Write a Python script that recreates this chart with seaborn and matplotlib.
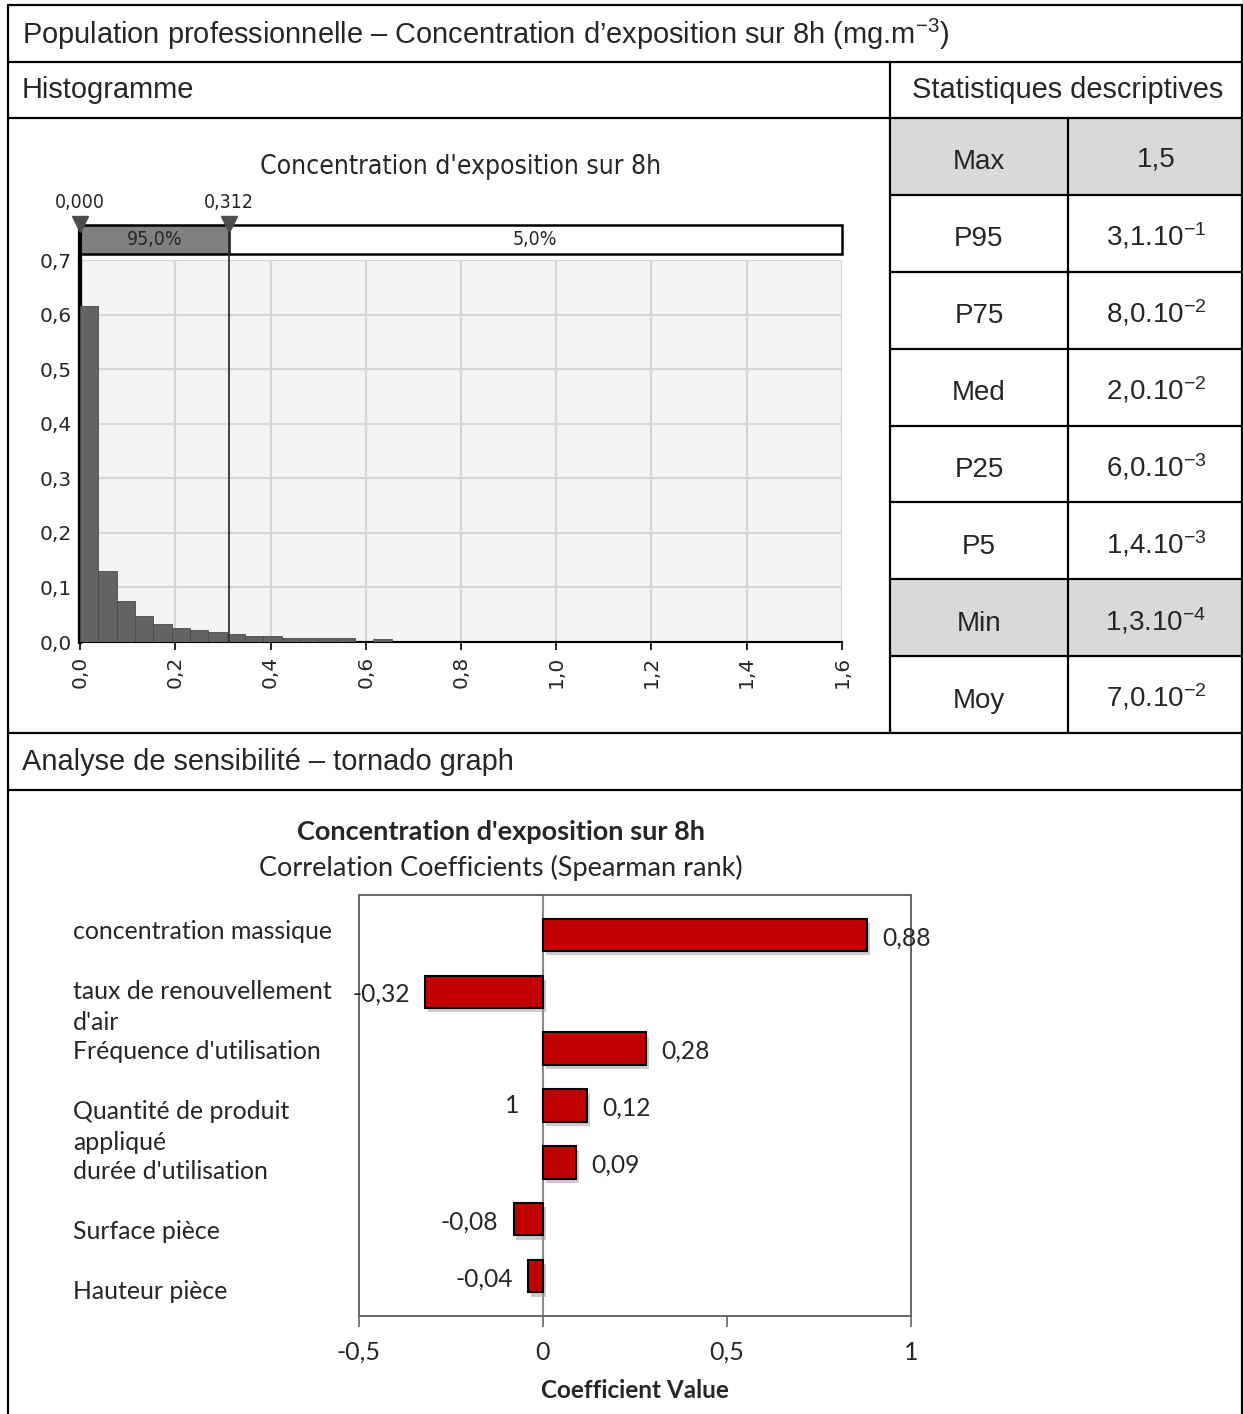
import numpy as np
import pandas as pd
import seaborn as sns
import matplotlib.pyplot as plt
import matplotlib.patheffects as pe
from matplotlib.patches import Rectangle
from matplotlib.transforms import blended_transform_factory

W, H = 1243, 1414

# --- histogram data (relative frequency per bin) ---
bin_width = 0.0385
hist_freq = [0.616, 0.130, 0.076, 0.047, 0.033, 0.026, 0.022, 0.018, 0.015,
             0.011, 0.011, 0.008, 0.007, 0.007, 0.007, 0.0, 0.006]
p_low, p_high = 0.000, 0.312
pct_in, pct_out = "95,0%", "5,0%"
hist_xticks = [0.0, 0.2, 0.4, 0.6, 0.8, 1.0, 1.2, 1.4, 1.6]
hist_yticks = [0.0, 0.1, 0.2, 0.3, 0.4, 0.5, 0.6, 0.7]

# --- descriptive statistics table ---
stat_labels = ["Max", "P95", "P75", "Med", "P25", "P5", "Min", "Moy"]
stat_values = ["1,5", "3,1.10$^{-1}$", "8,0.10$^{-2}$", "2,0.10$^{-2}$",
               "6,0.10$^{-3}$", "1,4.10$^{-3}$", "1,3.10$^{-4}$", "7,0.10$^{-2}$"]
stat_shaded = ["Max", "Min"]

# --- tornado data ---
factors = ["concentration massique", "taux de renouvellement\nd'air",
           "Fréquence d'utilisation", "Quantité de produit\nappliqué",
           "durée d'utilisation", "Surface pièce", "Hauteur pièce"]
coefs = [0.88, -0.32, 0.28, 0.12, 0.09, -0.08, -0.04]
coef_labels = ["0,88", "-0,32", "0,28", "0,12", "0,09", "-0,08", "-0,04"]
stray_label = ("1", -0.085, 3)
tornado_xticks = [-0.5, 0, 0.5, 1]
tornado_xticklabels = ["-0,5", "0", "0,5", "1"]

sns.set_theme(style="white")
plt.rcParams['font.family'] = ['Liberation Sans', 'DejaVu Sans']
plt.rcParams['mathtext.fontset'] = 'custom'
plt.rcParams['mathtext.rm'] = 'Liberation Sans'
plt.rcParams['mathtext.it'] = 'Liberation Sans:italic'
plt.rcParams['mathtext.bf'] = 'Liberation Sans:bold'

HF = ['DejaVu Sans']
CAL = ['Lato', 'DejaVu Sans']

fig = plt.figure(figsize=(W / 100, H / 100), dpi=100)

# background axes in pixel coordinates for the frame / table
bg = fig.add_axes([0, 0, 1, 1])
bg.set_xlim(0, W)
bg.set_ylim(H, 0)
bg.axis('off')

lw = 1.6
bg.plot([8, 8], [5, H], color='black', lw=lw)
bg.plot([W - 1, W - 1], [5, H], color='black', lw=lw)
for y in [5, 62, 118, 733, 790]:
    bg.plot([8, W], [y, y], color='black', lw=lw)
bg.plot([890, 890], [62, 733], color='black', lw=lw)
bg.plot([1068, 1068], [118, 733], color='black', lw=lw)

bg.text(22, 34, "Population professionnelle – Concentration d’exposition sur 8h (mg.m$^{-3}$)",
        fontsize=20.9, va='center', ha='left')
bg.text(22, 90, "Histogramme", fontsize=20.9, va='center', ha='left')
bg.text(1068, 90, "Statistiques descriptives", fontsize=20.9, va='center', ha='center')
bg.text(22, 762, "Analyse de sensibilité – tornado graph", fontsize=20.9, va='center', ha='left')

row_top = 118
row_h = (733 - 118) / len(stat_labels)
for i, (lab, val) in enumerate(zip(stat_labels, stat_values)):
    y0 = row_top + i * row_h
    if lab in stat_shaded:
        bg.add_patch(Rectangle((890, y0), W - 890, row_h, facecolor='#d9d9d9',
                               edgecolor='none', zorder=0))
    if i > 0:
        bg.plot([890, W], [y0, y0], color='black', lw=lw)
    bg.text(979, y0 + row_h / 2 + 6, lab, fontsize=20, ha='center', va='center')
    bg.text(1156, y0 + row_h / 2 + 3, val, fontsize=20, ha='center', va='center')

# --- histogram ---
ax_h = fig.add_axes([80 / W, 1 - 642 / H, 762 / W, 382 / H])
ax_h.set_facecolor('#f4f4f4')
edges = [i * bin_width for i in range(len(hist_freq) + 1)]
hdf = pd.DataFrame({'center': [e + bin_width / 2 for e in edges[:-1]], 'freq': hist_freq})
sns.histplot(data=hdf, x='center', weights='freq', bins=edges, color='#636363',
             edgecolor='#4a4a4a', linewidth=0.6, alpha=1, ax=ax_h, zorder=3)
ax_h.set_xlim(0, 1.6)
ax_h.set_ylim(0, 0.7)
ax_h.set_xticks(hist_xticks)
ax_h.set_yticks(hist_yticks)
ax_h.set_xticklabels([f"{t:.1f}".replace('.', ',') for t in hist_xticks],
                     rotation=90, family=HF, fontsize=14.5)
ax_h.set_yticklabels([f"{t:.1f}".replace('.', ',') for t in hist_yticks],
                     family=HF, fontsize=14.5)
ax_h.set_xlabel('')
ax_h.set_ylabel('')
ax_h.grid(True, color='#d6d6d6', lw=1.6, zorder=0)
ax_h.set_axisbelow(True)
for s in ['top', 'right']:
    ax_h.spines[s].set_visible(False)
ax_h.spines['left'].set_color('black')
ax_h.spines['left'].set_linewidth(3)
ax_h.spines['bottom'].set_color('black')
ax_h.spines['bottom'].set_linewidth(1.5)
ax_h.tick_params(axis='x', bottom=True, length=6, width=1.2, color='black', pad=4)
ax_h.tick_params(axis='y', left=False, length=0, pad=6)

tr = blended_transform_factory(ax_h.transData, ax_h.transAxes)
y_bar0, y_bar1 = 1.0157, 1.0916
ax_h.add_patch(Rectangle((p_low, y_bar0), p_high - p_low, y_bar1 - y_bar0, transform=tr,
                         facecolor='#808080', edgecolor='black', lw=1.8, clip_on=False))
ax_h.add_patch(Rectangle((p_high, y_bar0), 1.6 - p_high, y_bar1 - y_bar0, transform=tr,
                         facecolor='white', edgecolor='black', lw=1.8, clip_on=False))
ax_h.text((p_low + p_high) / 2, (y_bar0 + y_bar1) / 2, pct_in, transform=tr,
          ha='center', va='center', family=HF, fontstretch='condensed', fontsize=14)
ax_h.text((p_high + 1.6) / 2, (y_bar0 + y_bar1) / 2, pct_out, transform=tr,
          ha='center', va='center', family=HF, fontstretch='condensed', fontsize=14)
ax_h.plot([p_low, p_low], [0, y_bar1], transform=tr, color='black', lw=3, clip_on=False)
ax_h.plot([p_high, p_high], [0, y_bar1], transform=tr, color='#333333', lw=1.3,
          clip_on=False, zorder=4)
ax_h.plot([p_low, p_high], [1.093, 1.093], transform=tr, ls='none', marker='v',
          markersize=11, color='#4d4d4d', clip_on=False, zorder=5)
for p in [p_low, p_high]:
    ax_h.text(p, 1.15, f"{p:.3f}".replace('.', ','), transform=tr, ha='center',
              va='center', family=HF, fontstretch='condensed', fontsize=14)
bg.text(461, 167, "Concentration d'exposition sur 8h", ha='center', va='center',
        family='DejaVu Sans', fontstretch='condensed', fontsize=19)

# --- tornado ---
ax_t = fig.add_axes([359 / W, 1 - 1316 / H, 552 / W, 421 / H])
df = pd.DataFrame({'factor': factors, 'coef': coefs})
sns.barplot(data=df, x='coef', y='factor', orient='h', color='#c00000', saturation=1,
            edgecolor='black', linewidth=1.5, width=0.57, ax=ax_t, zorder=3)
for patch in ax_t.patches:
    patch.set_path_effects([pe.SimplePatchShadow(offset=(2, -3), shadow_rgbFace='#9a9a9a',
                                                 alpha=0.5), pe.Normal()])
ax_t.set_xlim(-0.5, 1)
ax_t.set_ylim(len(factors) - 0.3, -0.7)
ax_t.axvline(0, color='#8c8c8c', lw=1.5, zorder=1)
ax_t.set_yticks([])
ax_t.set_ylabel('')
ax_t.set_xticks(tornado_xticks)
ax_t.set_xticklabels(tornado_xticklabels, family=CAL, fontsize=18)
ax_t.tick_params(axis='x', bottom=True, length=8, width=1.2, color='#666666', pad=10)
for s in ax_t.spines.values():
    s.set_color('#666666')
    s.set_linewidth(1.4)
ax_t.set_xlabel("Coefficient Value", family=CAL, fontsize=17.5, fontweight='bold', labelpad=11)

for i, (v, lab) in enumerate(zip(coefs, coef_labels)):
    ax_t.annotate(lab, (v, i), xytext=(11 if v > 0 else -11, -2), textcoords='offset points',
                  ha='left' if v > 0 else 'right', va='center', family=CAL, fontsize=17.7)
ax_t.text(stray_label[1], stray_label[2], stray_label[0], ha='center', va='center',
          family=CAL, fontsize=17.7)

# factor names: first line level with its slot, wrapped lines hang below
for i, lab in enumerate(factors):
    for j, line in enumerate(lab.split('\n')):
        bg.text(73, 939 + 60 * i + 31 * j, line, ha='left', va='baseline',
                family=CAL, fontsize=17.9)

bg.text(501, 832, "Concentration d'exposition sur 8h", ha='center', va='center',
        family=CAL, fontsize=19.5, fontweight='bold')
bg.text(501, 868, "Correlation Coefficients (Spearman rank)", ha='center', va='center',
        family=CAL, fontsize=19.5)

fig.savefig('out.png', dpi=100)
